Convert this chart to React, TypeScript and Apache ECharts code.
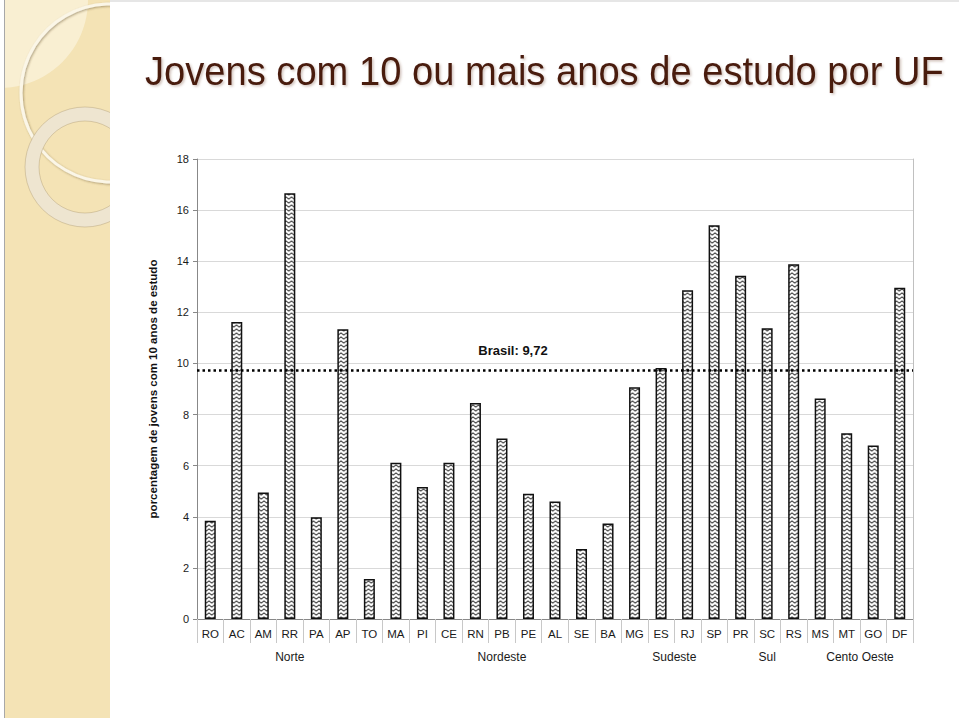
import React, { useEffect, useRef } from 'react';
import * as echarts from 'echarts';

const titleText = 'Jovens com 10 ou mais anos de estudo por UF';
const yAxisName = 'porcentagem de jovens com 10 anos de estudo';
const categories = ['RO', 'AC', 'AM', 'RR', 'PA', 'AP', 'TO', 'MA', 'PI', 'CE', 'RN', 'PB', 'PE', 'AL', 'SE', 'BA', 'MG', 'ES', 'RJ', 'SP', 'PR', 'SC', 'RS', 'MS', 'MT', 'GO', 'DF'];
const values = [3.84, 11.62, 4.95, 16.66, 3.98, 11.34, 1.57, 6.11, 5.17, 6.11, 8.45, 7.06, 4.9, 4.6, 2.74, 3.74, 9.07, 9.82, 12.86, 15.41, 13.43, 11.38, 13.88, 8.63, 7.27, 6.79, 12.96];
const regionNames = ['Norte', 'Nordeste', 'Sudeste', 'Sul', 'Cento Oeste'];
const regionCounts = [7, 9, 4, 3, 4];
const brasilValue = 9.72;
const brasilLabel = 'Brasil: 9,72';
const yMin = 0;
const yMax = 18;
const yInterval = 2;

const FONT = 'Arial, "Liberation Sans", sans-serif';

export default function App() {
  const ref = useRef<HTMLDivElement>(null);

  useEffect(() => {
    if (!ref.current) return;
    const chart = echarts.init(ref.current, null, { renderer: 'svg' });

    // zigzag fill pattern
    const cv = document.createElement('canvas');
    cv.width = 11;
    cv.height = 8;
    const ctx = cv.getContext('2d')!;
    ctx.fillStyle = '#ffffff';
    ctx.fillRect(0, 0, 11, 8);
    ctx.strokeStyle = '#1a1a1a';
    ctx.lineWidth = 1.8;
    ctx.beginPath();
    ctx.moveTo(-0.5, 1.2);
    ctx.lineTo(5.5, 6.4);
    ctx.lineTo(11.5, 1.2);
    ctx.stroke();
    const pattern: any = { image: cv, repeat: 'repeat', imageWidth: 5.5, imageHeight: 4 };

    // group axis (half-slot positions)
    const slots = categories.length * 2 + 1;
    const groupData: string[] = [];
    for (let i = 0; i < slots; i++) groupData.push(String(i));
    const labelMap: Record<number, string> = {};
    const boundarySet = new Set<number>([0]);
    let acc = 0;
    regionCounts.forEach((c, i) => {
      labelMap[acc * 2 + c] = regionNames[i];
      acc += c;
      boundarySet.add(acc * 2);
    });

    const option: any = {
      animation: false,
      grid: { left: 197, right: 46, top: 159, bottom: 99, containLabel: false },
      graphic: [
        { type: 'rect', z: -20, shape: { x: 4, y: 0, width: 106, height: 718 }, style: { fill: '#f4e3b5' } },
        { type: 'circle', z: -19, shape: { cx: 0, cy: 0, r: 88 }, style: { fill: 'rgba(251,246,230,0.6)' } },
        {
          type: 'circle', z: -18, shape: { cx: 110, cy: 93, r: 89 },
          style: { fill: 'none', stroke: '#fbf6e7', lineWidth: 3, shadowColor: 'rgba(90,70,40,0.45)', shadowBlur: 2, shadowOffsetX: 1, shadowOffsetY: 1 },
        },
        {
          type: 'ring', z: -17, shape: { cx: 85, cy: 167, r: 60, r0: 46 },
          style: { fill: '#eee5d0', stroke: 'rgba(170,150,110,0.4)', lineWidth: 1 },
        },
        { type: 'rect', z: -15, shape: { x: 110, y: 0, width: 100, height: 154 }, style: { fill: '#ffffff' } },
        { type: 'rect', z: -15, shape: { x: 110, y: 150, width: 84, height: 100 }, style: { fill: '#ffffff' } },
        { type: 'rect', z: -15, shape: { x: 0, y: 0, width: 4, height: 718 }, style: { fill: '#ffffff' } },
        { type: 'rect', z: -14, shape: { x: 4, y: 0, width: 1, height: 718 }, style: { fill: '#a8a8a8' } },
        { type: 'rect', z: -14, shape: { x: 110, y: 0, width: 849, height: 2 }, style: { fill: '#e6e6e6' } },
        {
          type: 'text', z: 100, x: 145, y: 71, scaleX: 0.93,
          style: {
            text: titleText, fontSize: 41, fontFamily: FONT, fill: '#481a10', verticalAlign: 'middle', align: 'left',
            textShadowColor: 'rgba(120,80,60,0.35)', textShadowBlur: 2, textShadowOffsetX: 1.5, textShadowOffsetY: 1.5,
          },
        },
        {
          type: 'text', z: 100, x: 513, y: 350,
          style: { text: brasilLabel, fontSize: 13, fontWeight: 'bold', fontFamily: FONT, fill: '#111', align: 'center', verticalAlign: 'middle' },
        },
      ],
      xAxis: [
        {
          type: 'category',
          data: categories,
          axisLine: { lineStyle: { color: '#888', width: 1 } },
          axisTick: { show: true, interval: 0, length: 24, lineStyle: { color: '#c8c8c8' } },
          axisLabel: { interval: 0, margin: 9, fontSize: 11.5, color: '#1a1a1a', fontFamily: FONT },
        },
        {
          type: 'category',
          position: 'bottom',
          offset: 24,
          data: groupData,
          boundaryGap: false,
          axisLine: { show: false },
          axisTick: { show: true, length: 24, interval: (i: number) => boundarySet.has(i), lineStyle: { color: '#c8c8c8' } },
          axisLabel: {
            interval: (i: number) => labelMap[i] != null,
            formatter: (v: string) => labelMap[Number(v)] || '',
            margin: 8, fontSize: 12, color: '#1a1a1a', fontFamily: FONT,
          },
        },
      ],
      yAxis: [
        {
          type: 'value', min: yMin, max: yMax, interval: yInterval,
          name: yAxisName, nameLocation: 'middle', nameGap: 38,
          nameTextStyle: { fontWeight: 'bold', fontSize: 11.5, color: '#111', fontFamily: FONT },
          axisLine: { show: true, lineStyle: { color: '#888' } },
          axisTick: { show: true, length: 4, lineStyle: { color: '#888' } },
          axisLabel: { fontSize: 11, color: '#1a1a1a', margin: 8, fontFamily: FONT },
          splitLine: { lineStyle: { color: '#d9d9d9', width: 1 } },
        },
        {
          type: 'value', position: 'right', min: yMin, max: yMax, interval: yInterval,
          axisLine: { show: true, lineStyle: { color: '#c0c0c0' } },
          axisTick: { show: false }, axisLabel: { show: false }, splitLine: { show: false },
        },
      ],
      series: [
        {
          type: 'bar',
          data: values,
          barWidth: 11,
          xAxisIndex: 0,
          yAxisIndex: 0,
          itemStyle: { color: pattern, borderColor: '#111', borderWidth: 1.5 },
          markLine: {
            silent: true,
            symbol: 'none',
            label: { show: false },
            lineStyle: { color: '#000', width: 2.5, type: [2.5, 3] },
            data: [{ yAxis: brasilValue }],
          },
        },
      ],
    };
    chart.setOption(option);
    return () => chart.dispose();
  }, []);

  return <div ref={ref} style={{ position: 'fixed', left: 0, top: 0, width: 959, height: 718, background: '#fff' }} />;
}
